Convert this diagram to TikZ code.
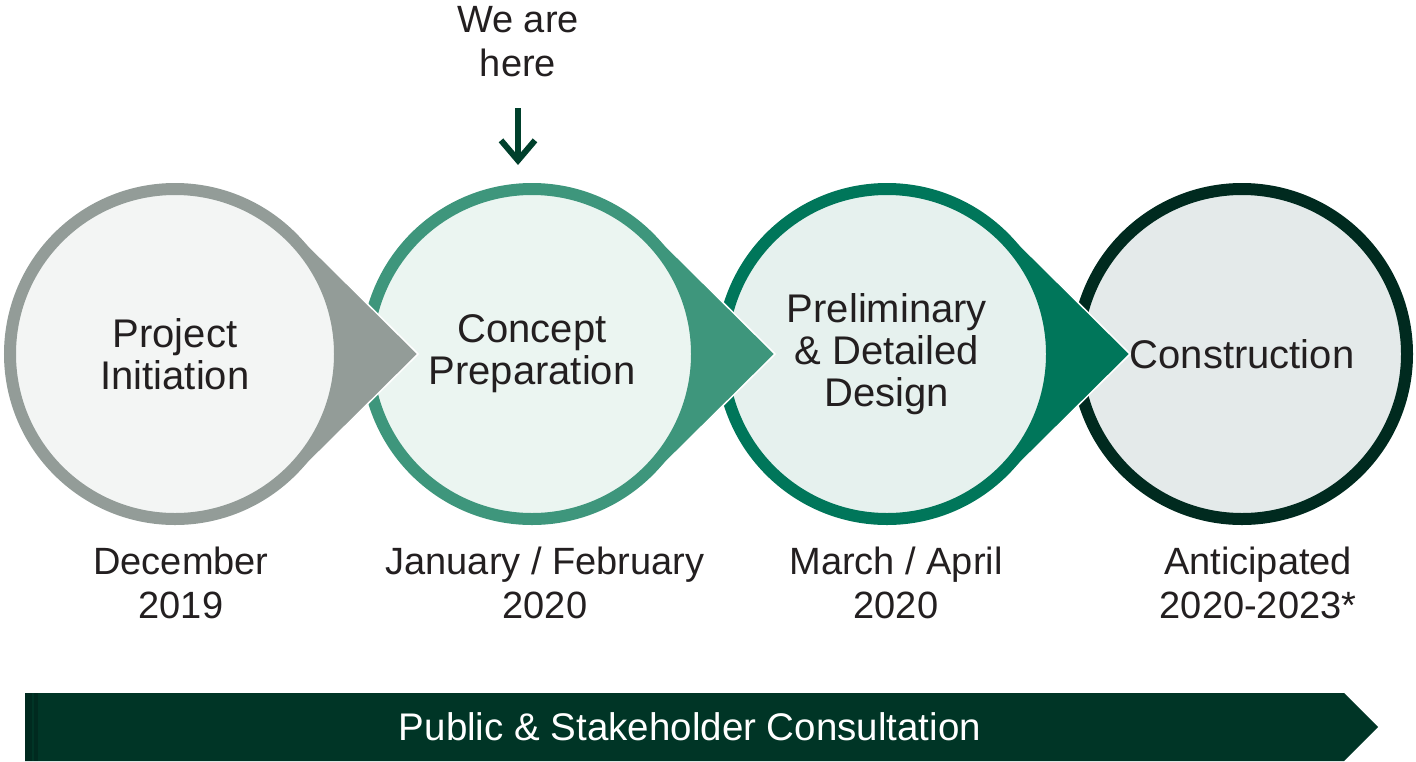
\documentclass[tikz,border=0pt]{standalone}
\usepackage{fontspec}
\setmainfont{Liberation Sans}
\usepackage{xcolor}
\usepackage{tikz}
\usetikzlibrary{arrows.meta,calc}
\definecolor{pgray}{HTML}{939C98}
\definecolor{pgraybg}{HTML}{F3F5F4}
\definecolor{pteal}{HTML}{3E967C}
\definecolor{ptealbg}{HTML}{EBF5F1}
\definecolor{pgreen}{HTML}{00765A}
\definecolor{pgreenbg}{HTML}{E6F1EE}
\definecolor{pdark}{HTML}{002A1F}
\definecolor{pdarkbg}{HTML}{E4EAEA}
\definecolor{pbar}{HTML}{003526}
\definecolor{parrow}{HTML}{00402C}
\definecolor{ptext}{HTML}{231F20}

\begin{document}
\begin{tikzpicture}[x=1pt, y=-1pt,
    stagecircle/.style={circle, minimum size=330pt, line width=12pt, inner sep=0pt, align=center, text=ptext, font=\fontsize{40}{42}\selectfont},
    datelabel/.style={align=center, inner sep=0pt, text=ptext, font=\fontsize{38}{44}\selectfont}]
    \useasboundingbox (0,0) rectangle (1416,761);
    % Stage centres and tips
    \coordinate (p1) at (175,354); \coordinate (t1) at (418,354);
    \coordinate (p2) at (532,354); \coordinate (t2) at (775,354);
    \coordinate (p3) at (887,354); \coordinate (t3) at (1130,354);
    \coordinate (p4) at (1242,354);
    % Construction
    \node[stagecircle, draw=pdark, fill=pdarkbg] (c4) at (p4) {Construction};
    % Preliminary & Detailed Design
    \fill[pgreen] ($(p3)+(45.3:171)$) -- (t3) -- ($(p3)+(-45.3:171)$) -- cycle;
    \draw[white, line width=1.5pt] ($(p3)+(45.3:171)$) -- (t3) -- ($(p3)+(-45.3:171)$);
    \node[stagecircle, draw=pgreen, fill=pgreenbg] (c3) at (p3) {Preliminary\\\& Detailed\\Design};
    % Concept Preparation
    \fill[pteal] ($(p2)+(45.3:171)$) -- (t2) -- ($(p2)+(-45.3:171)$) -- cycle;
    \draw[white, line width=1.5pt] ($(p2)+(45.3:171)$) -- (t2) -- ($(p2)+(-45.3:171)$);
    \node[stagecircle, draw=pteal, fill=ptealbg] (c2) at (p2) {Concept\\Preparation};
    % Project Initiation
    \fill[pgray] ($(p1)+(45.3:171)$) -- (t1) -- ($(p1)+(-45.3:171)$) -- cycle;
    \draw[white, line width=1.5pt] ($(p1)+(45.3:171)$) -- (t1) -- ($(p1)+(-45.3:171)$);
    \node[stagecircle, draw=pgray, fill=pgraybg] (c1) at (p1) {Project\\Initiation};
    % We are here
    \node[datelabel] (here) at (518,42) {We are\\here};
    \draw[parrow, line width=6pt, -{Straight Barb[length=20pt,width=34pt]}] ([yshift=-31pt]here.south) -- ([yshift=18pt]here.south |- c2.north);
    % Dates
    \node[datelabel] (d1) at (181,583) {December\\2019};
    \node[datelabel] (d2) at (545,583) {January / February\\2020};
    \node[datelabel] (d3) at (896,583) {March / April\\2020};
    \node[datelabel] (d4) at (1258,583) {Anticipated\\2020-2023*};
    % Consultation bar
    \fill[pbar] (25,693) -- (1344,693) -- (1378,727) -- (1344,761) -- (25,761) -- cycle;
    \fill[pdark] (25,693) rectangle (32,761); \fill[pdark] (34,693) rectangle (38,761);
    \node[text=white, font=\fontsize{38.5}{44}\selectfont] (consult) at (690,727) {Public \& Stakeholder Consultation};
\end{tikzpicture}
\end{document}
